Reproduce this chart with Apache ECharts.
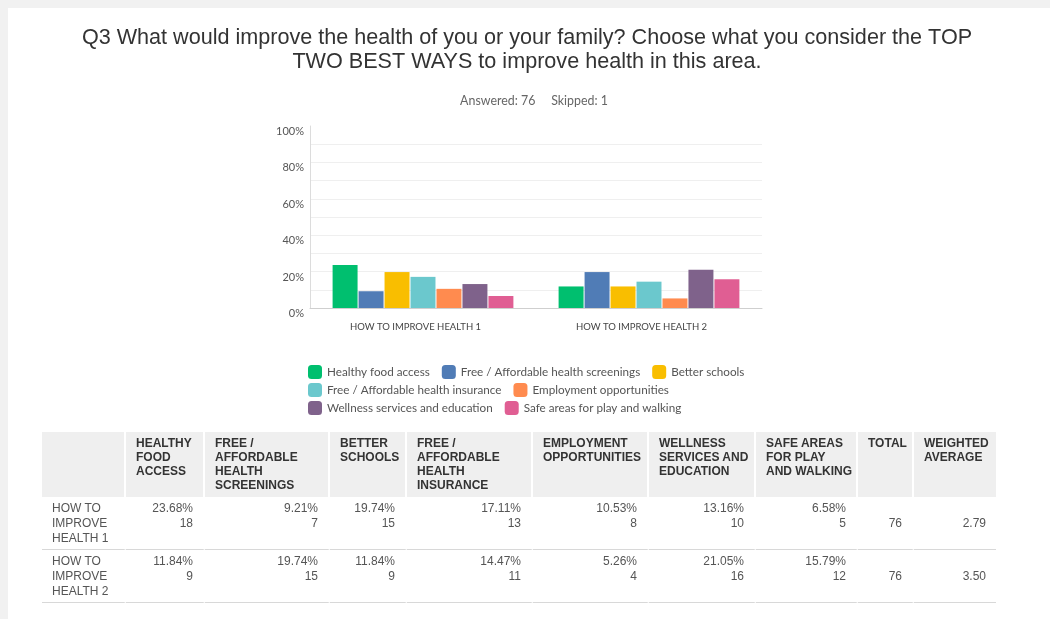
<!DOCTYPE html>
<html>
<head>
<meta charset="utf-8">
<script src="https://cdn.jsdelivr.net/npm/echarts@6/dist/echarts.min.js"></script>
<style>
  html, body { margin: 0; padding: 0; background: #f1f1f1; }
  #card { position: absolute; left: 8px; top: 8px; width: 1042px; height: 611px; background: #fff; }
  #chart { position: absolute; left: 0; top: 0; width: 1050px; height: 619px; }
  #tbl { position: absolute; left: 42px; top: 432px; width: 954px; border-collapse: separate; border-spacing: 0;
         table-layout: fixed;
         font-family: "Liberation Sans", Arial, sans-serif; font-size: 12px; color: #555; }
  #tbl th { background: #efefef; color: #333; font-weight: bold; text-align: left; vertical-align: top;
            padding: 4px 4px 4px 10px; line-height: 14px; height: 57px; border-right: 2px solid #fff; }
  #tbl td { text-align: right; vertical-align: top; padding: 4px 10px 0 4px; line-height: 15px; height: 48px;
            border-bottom: 1px solid #d8d8d8; border-right: 2px solid #fff; }
  #tbl td.lbl { text-align: left; padding-left: 10px; }
  #tbl td.mid { vertical-align: middle; padding-top: 0; }
</style>
</head>
<body>
<div id="card"></div>
<div id="chart"></div>
<table id="tbl"></table>
<script>
// 类别与数据
var rows = ['HOW TO IMPROVE HEALTH 1', 'HOW TO IMPROVE HEALTH 2'];
var rowLabels = ['HOW TO<br>IMPROVE<br>HEALTH 1', 'HOW TO<br>IMPROVE<br>HEALTH 2'];
var choices = ['Healthy food access', 'Free / Affordable health screenings', 'Better schools',
               'Free / Affordable health insurance', 'Employment opportunities',
               'Wellness services and education', 'Safe areas for play and walking'];
var headers = ['HEALTHY FOOD ACCESS', 'FREE / AFFORDABLE HEALTH SCREENINGS', 'BETTER SCHOOLS',
               'FREE / AFFORDABLE HEALTH INSURANCE', 'EMPLOYMENT OPPORTUNITIES',
               'WELLNESS SERVICES AND EDUCATION', 'SAFE AREAS FOR PLAY AND WALKING'];
var pct1 = [23.68, 9.21, 19.74, 17.11, 10.53, 13.16, 6.58];
var pct2 = [11.84, 19.74, 11.84, 14.47, 5.26, 21.05, 15.79];
var cnt1 = [18, 7, 15, 13, 8, 10, 5];
var cnt2 = [9, 15, 9, 11, 4, 16, 12];
var totals = [76, 76];
var weighted = ['2.79', '3.50'];
var yTicks = [0, 20, 40, 60, 80, 100];
var colors = ['#00bf6f', '#507cb6', '#f9be00', '#6bc8cd', '#ff8b4f', '#7f628b', '#e05e93'];

var chart = echarts.init(document.getElementById('chart'));

var series = choices.map(function (name, i) {
    return {
        name: name,
        type: 'bar',
        barGap: '4%',
        barCategoryGap: '20%',
        itemStyle: { color: colors[i] },
        data: [pct1[i], pct2[i]]
    };
});

var legendBase = {
    left: 303, itemWidth: 14, itemHeight: 14, itemGap: 12, icon: 'roundRect',
    textStyle: { fontFamily: 'Lato', fontSize: 11.7, color: '#555' }
};

chart.setOption({
    animation: false,
    title: [
        {
            text: 'Q3 What would improve the health of you or your family? Choose what you consider the TOP\nTWO BEST WAYS to improve health in this area.',
            left: 522, top: 21, textAlign: 'center',
            textStyle: { fontFamily: 'Liberation Sans', fontSize: 21.6, fontWeight: 'normal', color: '#333', lineHeight: 24 }
        },
        {
            text: 'Answered: 76     Skipped: 1',
            left: 529, top: 90, textAlign: 'center',
            textStyle: { fontFamily: 'Lato', fontSize: 12.4, fontWeight: 'normal', color: '#666' }
        }
    ],
    legend: [
        Object.assign({}, legendBase, { top: 360, data: choices.slice(0, 3) }),
        Object.assign({}, legendBase, { top: 378, data: choices.slice(3, 5) }),
        Object.assign({}, legendBase, { top: 396, data: choices.slice(5, 7) })
    ],
    grid: { left: 310, right: 288, top: 126, bottom: 311 },
    xAxis: {
        type: 'category',
        data: rows,
        axisLine: { lineStyle: { color: '#cfcfcf' } },
        axisTick: { show: false },
        axisLabel: { fontFamily: 'Lato', fontSize: 9.5, color: '#444', margin: 14, padding: [0, 15, 0, 0] }
    },
    yAxis: {
        type: 'value',
        min: 0, max: 100, interval: 10,
        axisLine: { show: true, lineStyle: { color: '#dcdcdc' } },
        axisTick: { show: false },
        axisLabel: {
            fontFamily: 'Lato', fontSize: 11, color: '#555', margin: 6, verticalAlign: 'top',
            formatter: function (v) { return yTicks.indexOf(v) >= 0 ? v + '%' : ''; }
        },
        splitLine: {
            lineStyle: {
                color: ['transparent', '#efefef', '#efefef', '#efefef', '#efefef', '#efefef',
                        '#efefef', '#efefef', '#efefef', '#efefef', 'transparent']
            }
        }
    },
    series: series
});

// 表格
var widths = [84, 79, 125, 77, 126, 116, 107, 102, 56, 82];
var html = '<colgroup>';
widths.forEach(function (w) { html += '<col style="width:' + w + 'px">'; });
html += '</colgroup><tr><th></th>';
headers.forEach(function (h) { html += '<th>' + h + '</th>'; });
html += '<th>TOTAL</th><th style="border-right:0">WEIGHTED AVERAGE</th></tr>';
[[pct1, cnt1], [pct2, cnt2]].forEach(function (r, k) {
    html += '<tr><td class="lbl">' + rowLabels[k] + '</td>';
    r[0].forEach(function (p, i) {
        html += '<td>' + p.toFixed(2) + '%<br>' + r[1][i] + '</td>';
    });
    html += '<td class="mid">' + totals[k] + '</td><td class="mid" style="border-right:0">' + weighted[k] + '</td></tr>';
});
document.getElementById('tbl').innerHTML = html;
</script>
</body>
</html>
